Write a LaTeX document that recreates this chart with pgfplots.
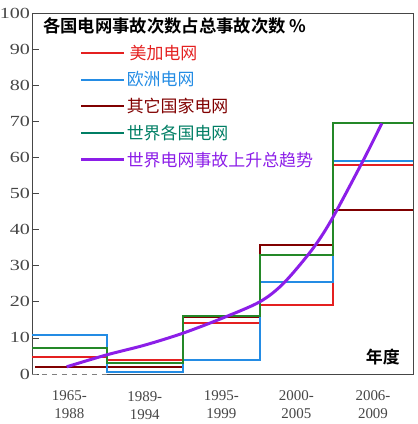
\documentclass[border=0pt]{standalone}
\usepackage{fontspec}
\setmainfont{Liberation Serif}
\newfontfamily\ytickfont[FakeStretch=1.3]{Liberation Serif}
\newfontfamily\cjk[BoldFont={Noto Sans CJK SC Bold}]{Noto Sans CJK SC}
\usepackage{pgfplots}
\pgfplotsset{compat=1.18}
\definecolor{cred}{RGB}{228,32,32}
\definecolor{cblue}{RGB}{36,140,228}
\definecolor{cdred}{RGB}{128,0,0}
\definecolor{cgreen}{RGB}{36,136,40}
\definecolor{cteal}{RGB}{0,126,100}
\definecolor{cpurple}{RGB}{140,30,232}
\definecolor{axgray}{RGB}{70,70,70}
\begin{document}
\begin{tikzpicture}
\begin{axis}[
  name=ax,
  scale only axis,
  width=381bp, height=361bp,
  xmin=0, xmax=5, ymin=0, ymax=100,
  axis line style={draw=none},
  ytick={0,10,...,100},
  ytick pos=left,
  tick align=inside,
  major tick length=7bp,
  tick style={axgray, line width=0.8pt},
  xtick={0.49,2.485,3.47,4.475},
  xticklabels={{1965-\\1988},{1995-\\1999},{2000-\\2005},{2006-\\2009}},
  xticklabel style={align=center, font=\fontsize{15}{18}\selectfont, yshift=-13bp},
  extra x ticks={1.48},
  extra x tick labels={{1989-\\1994}},
  extra x tick style={xticklabel style={yshift=-1.5bp}, major tick length=0pt},
  x tick style={draw=none},
  minor xtick={0.98,1.98,2.99,3.95},
  minor tick length=6bp,
  xtick pos=bottom,
  yticklabel style={font=\ytickfont\fontsize{15.5}{17}\selectfont, xshift=1.5bp},
  /pgf/number format/assume math mode=true,
  ticklabel style={text=axgray},
  legend style={draw=none, fill=none, at={(rel axis cs:0.125,0.915)}, anchor=north west,
    font=\cjk\fontsize{17}{19}\selectfont, row sep=9bp, inner sep=0pt,
    nodes={inner sep=1bp}},
  legend cell align=left,
  legend image code/.code={\draw[#1] (0bp,0bp) -- (43bp,0bp);},
  clip=false,
]
\addlegendimage{cred, line width=2pt}
\addlegendentry{\textcolor{cred}{\,美加电网}}
\addlegendimage{cblue, line width=2pt}
\addlegendentry{\textcolor{cblue}{欧洲电网}}
\addlegendimage{cdred, line width=2pt}
\addlegendentry{\textcolor{cdred}{其它国家电网}}
\addlegendimage{cteal, line width=2pt}
\addlegendentry{\textcolor{cteal}{世界各国电网}}
\addlegendimage{cpurple, line width=3pt}
\addlegendentry{\textcolor{cpurple}{世界电网事故上升总趋势}}

% frame
\draw[axgray, line width=0.8pt] (rel axis cs:0,0) -- (rel axis cs:0,1) -- (rel axis cs:1,1) -- (rel axis cs:1,0) -- (axis cs:0.98,0);
\draw[gray, line width=0.9pt, dash pattern=on 5bp off 5bp] (rel axis cs:0,0) -- (axis cs:0.98,0);

\addplot[forget plot, const plot, cred, line width=2pt] coordinates {
 (0,4.8) (0.98,3.9) (1.98,14.2) (2.99,19.0) (3.95,58.0) (5,58.0)};
\addplot[forget plot, const plot, cdred, line width=2pt] coordinates {
 (0.04,2.0) (0.98,2.0) (1.98,15.8) (2.99,35.7) (3.95,45.5) (5,45.5)};
\addplot[forget plot, const plot, cblue, line width=2pt] coordinates {
 (0,10.8) (0.98,0.6) (1.98,3.8) (2.99,25.5) (3.95,59.0) (5,59.0)};
\addplot[forget plot, const plot, cgreen, line width=2pt] coordinates {
 (0,7.1) (0.98,3.0) (1.98,16.0) (2.99,33.1) (3.95,69.4) (5,69.4)};
\addplot[forget plot, smooth, cpurple, line width=3pt] coordinates {
 (0.455,2.0) (0.98,5.3) (1.48,8.0) (1.98,11.3) (2.49,15.4) (2.99,20.0)
 (3.30,25.1) (3.67,34.3) (3.93,42.7) (4.35,59.3) (4.59,69.4)};

\node[anchor=west, font=\cjk\bfseries\fontsize{17.4}{19}\selectfont, inner sep=0pt] at (rel axis cs:0.029,0.964) {各国电网事故次数占总事故次数 \%};
\node[anchor=east, font=\cjk\bfseries\fontsize{17}{19}\selectfont, inner sep=0pt] at (rel axis cs:0.966,0.047) {年度};
\end{axis}
\pgfresetboundingbox
\path ([xshift=-32bp,yshift=-50bp]ax.south west) rectangle ([xshift=5bp,yshift=13bp]ax.north east);
\end{tikzpicture}
\end{document}
